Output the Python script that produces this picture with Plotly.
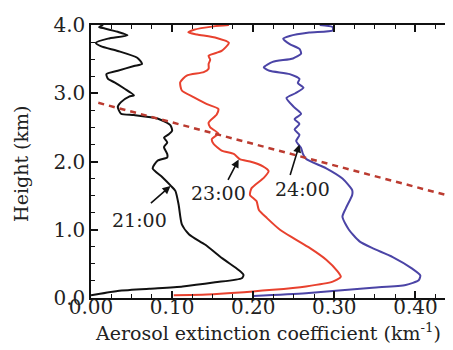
import plotly.graph_objects as go

# ---- data ----
h21 = [0.04, 0.10, 0.135, 0.17, 0.23, 0.29, 0.34, 0.41, 0.58, 0.78, 0.93, 1.08, 1.37, 1.57, 1.65, 1.77, 1.90, 2.01,
       2.06, 2.11, 2.21, 2.28, 2.35, 2.40, 2.45, 2.53, 2.63, 2.68, 2.70, 2.80, 2.87, 2.95, 2.97, 3.07, 3.16, 3.21,
       3.28, 3.33, 3.40, 3.43, 3.52, 3.62, 3.69, 3.74, 3.80, 3.85, 3.90, 3.95, 3.97, 4.00]
e21 = [0.000, 0.031, 0.072, 0.113, 0.153, 0.186, 0.188, 0.182, 0.162, 0.141, 0.121, 0.112, 0.108, 0.104, 0.098, 0.088,
       0.076, 0.082, 0.094, 0.094, 0.090, 0.094, 0.090, 0.096, 0.100, 0.098, 0.082, 0.053, 0.037, 0.033, 0.037, 0.047,
       0.053, 0.041, 0.029, 0.021, 0.019, 0.033, 0.053, 0.063, 0.057, 0.033, 0.012, 0.006, 0.021, 0.045, 0.033, 0.017,
       0.010, 0.015]

h23 = [0.04, 0.05, 0.12, 0.17, 0.24, 0.31, 0.39, 0.56, 0.73, 0.88, 1.00, 1.17, 1.29, 1.42, 1.51, 1.61, 1.76, 1.86,
       1.93, 2.00, 2.03, 2.11, 2.16, 2.26, 2.33, 2.41, 2.50, 2.57, 2.69, 2.77, 2.84, 2.94, 3.04, 3.16, 3.26, 3.31,
       3.36, 3.43, 3.49, 3.55, 3.62, 3.74, 3.81, 3.86, 3.89, 3.93, 3.98, 4.00]
e23 = [0.102, 0.143, 0.224, 0.265, 0.298, 0.308, 0.304, 0.290, 0.270, 0.249, 0.233, 0.217, 0.207, 0.204, 0.196, 0.198,
       0.213, 0.219, 0.212, 0.196, 0.184, 0.176, 0.161, 0.151, 0.149, 0.157, 0.147, 0.145, 0.155, 0.157, 0.143, 0.127,
       0.112, 0.110, 0.118, 0.139, 0.145, 0.145, 0.147, 0.145, 0.161, 0.170, 0.155, 0.131, 0.120, 0.127, 0.151, 0.170]

h24 = [0.03, 0.07, 0.15, 0.19, 0.26, 0.33, 0.43, 0.60, 0.73, 0.83, 1.00, 1.19, 1.31, 1.51, 1.58, 1.75, 1.90, 2.04,
       2.12, 2.20, 2.30, 2.39, 2.47, 2.55, 2.62, 2.70, 2.80, 2.93, 3.00, 3.08, 3.15, 3.21, 3.28, 3.33, 3.38, 3.46,
       3.51, 3.58, 3.65, 3.72, 3.80, 3.84, 3.89, 3.92, 3.97, 4.00]
e24 = [0.200, 0.265, 0.347, 0.388, 0.404, 0.406, 0.396, 0.372, 0.347, 0.331, 0.318, 0.310, 0.314, 0.322, 0.322, 0.310,
       0.290, 0.265, 0.261, 0.259, 0.253, 0.257, 0.251, 0.257, 0.251, 0.259, 0.250, 0.241, 0.252, 0.262, 0.255, 0.257,
       0.245, 0.220, 0.213, 0.224, 0.249, 0.259, 0.257, 0.245, 0.237, 0.245, 0.269, 0.298, 0.298, 0.282]

pbl_x = [0.009, 0.45]
pbl_y = [2.86, 1.47]

labels = ["21:00", "23:00", "24:00"]
label_pos = [(0.060, 1.15), (0.1575, 1.54), (0.261, 1.60)]
arrow_tip = [(0.098, 1.64), (0.182, 2.03), (0.257, 2.25)]
arrow_tail = [(0.072, 1.37), (0.168, 1.71), (0.245, 1.78)]

FONT = "DejaVu Serif"
TXT = "#222222"

fig = go.Figure()
for xs, ys, col in [(e21, h21, "#111111"), (e23, h23, "#e8412e"), (e24, h24, "#4b44a6")]:
    fig.add_trace(go.Scatter(x=xs, y=ys, mode="lines",
                             line=dict(color=col, width=2, shape="spline", smoothing=0.6),
                             showlegend=False))
fig.add_trace(go.Scatter(x=pbl_x, y=pbl_y, mode="lines",
                         line=dict(color="#bb3b30", width=2.5, dash="6px,5px"), showlegend=False))

for t, (lx, ly), (tx, ty), (sx, sy) in zip(labels, label_pos, arrow_tip, arrow_tail):
    fig.add_annotation(x=lx, y=ly, text=t, showarrow=False, xref="x", yref="y",
                       font=dict(family=FONT, size=19, color=TXT))
    fig.add_annotation(x=tx, y=ty, ax=sx, ay=sy, axref="x", ayref="y", xref="x", yref="y",
                       text="", showarrow=True, arrowhead=2, arrowsize=1, arrowwidth=1.6,
                       arrowcolor="#111")

fig.add_annotation(x=0.5, y=-0.125, xref="paper", yref="paper", yanchor="middle", xanchor="center",
                   xshift=-6, text="Aerosol extinction coefficient (km<sup>-1</sup>)", showarrow=False,
                   font=dict(family=FONT, size=19, color=TXT))
fig.add_annotation(x=-0.19, y=0.49, xref="paper", yref="paper", xanchor="center", yanchor="middle",
                   text="Height (km)", textangle=-90, showarrow=False,
                   font=dict(family=FONT, size=19, color=TXT))

axis_common = dict(showgrid=False, zeroline=False, showline=True, linecolor="#111", linewidth=1.5,
                   mirror="ticks", ticks="inside", ticklen=7, tickwidth=1.5, tickcolor="#111",
                   tickfont=dict(family=FONT, size=20, color=TXT))

fig.update_xaxes(range=[0, 0.45], tick0=0, dtick=0.1, tickformat=".2f", ticklabelstandoff=-10,
                 minor=dict(dtick=0.025, ticks="inside", ticklen=4, tickwidth=1.2, tickcolor="#111"),
                 **axis_common)
fig.update_yaxes(range=[0, 4], tick0=0, dtick=1, tickformat=".1f",
                 minor=dict(dtick=0.25, ticks="inside", ticklen=4, tickwidth=1.2, tickcolor="#111"),
                 **axis_common)

fig.update_layout(width=453, height=350, margin=dict(l=83, r=3, t=17, b=60),
                  paper_bgcolor="white", plot_bgcolor="white")

fig.write_html("out.html")
